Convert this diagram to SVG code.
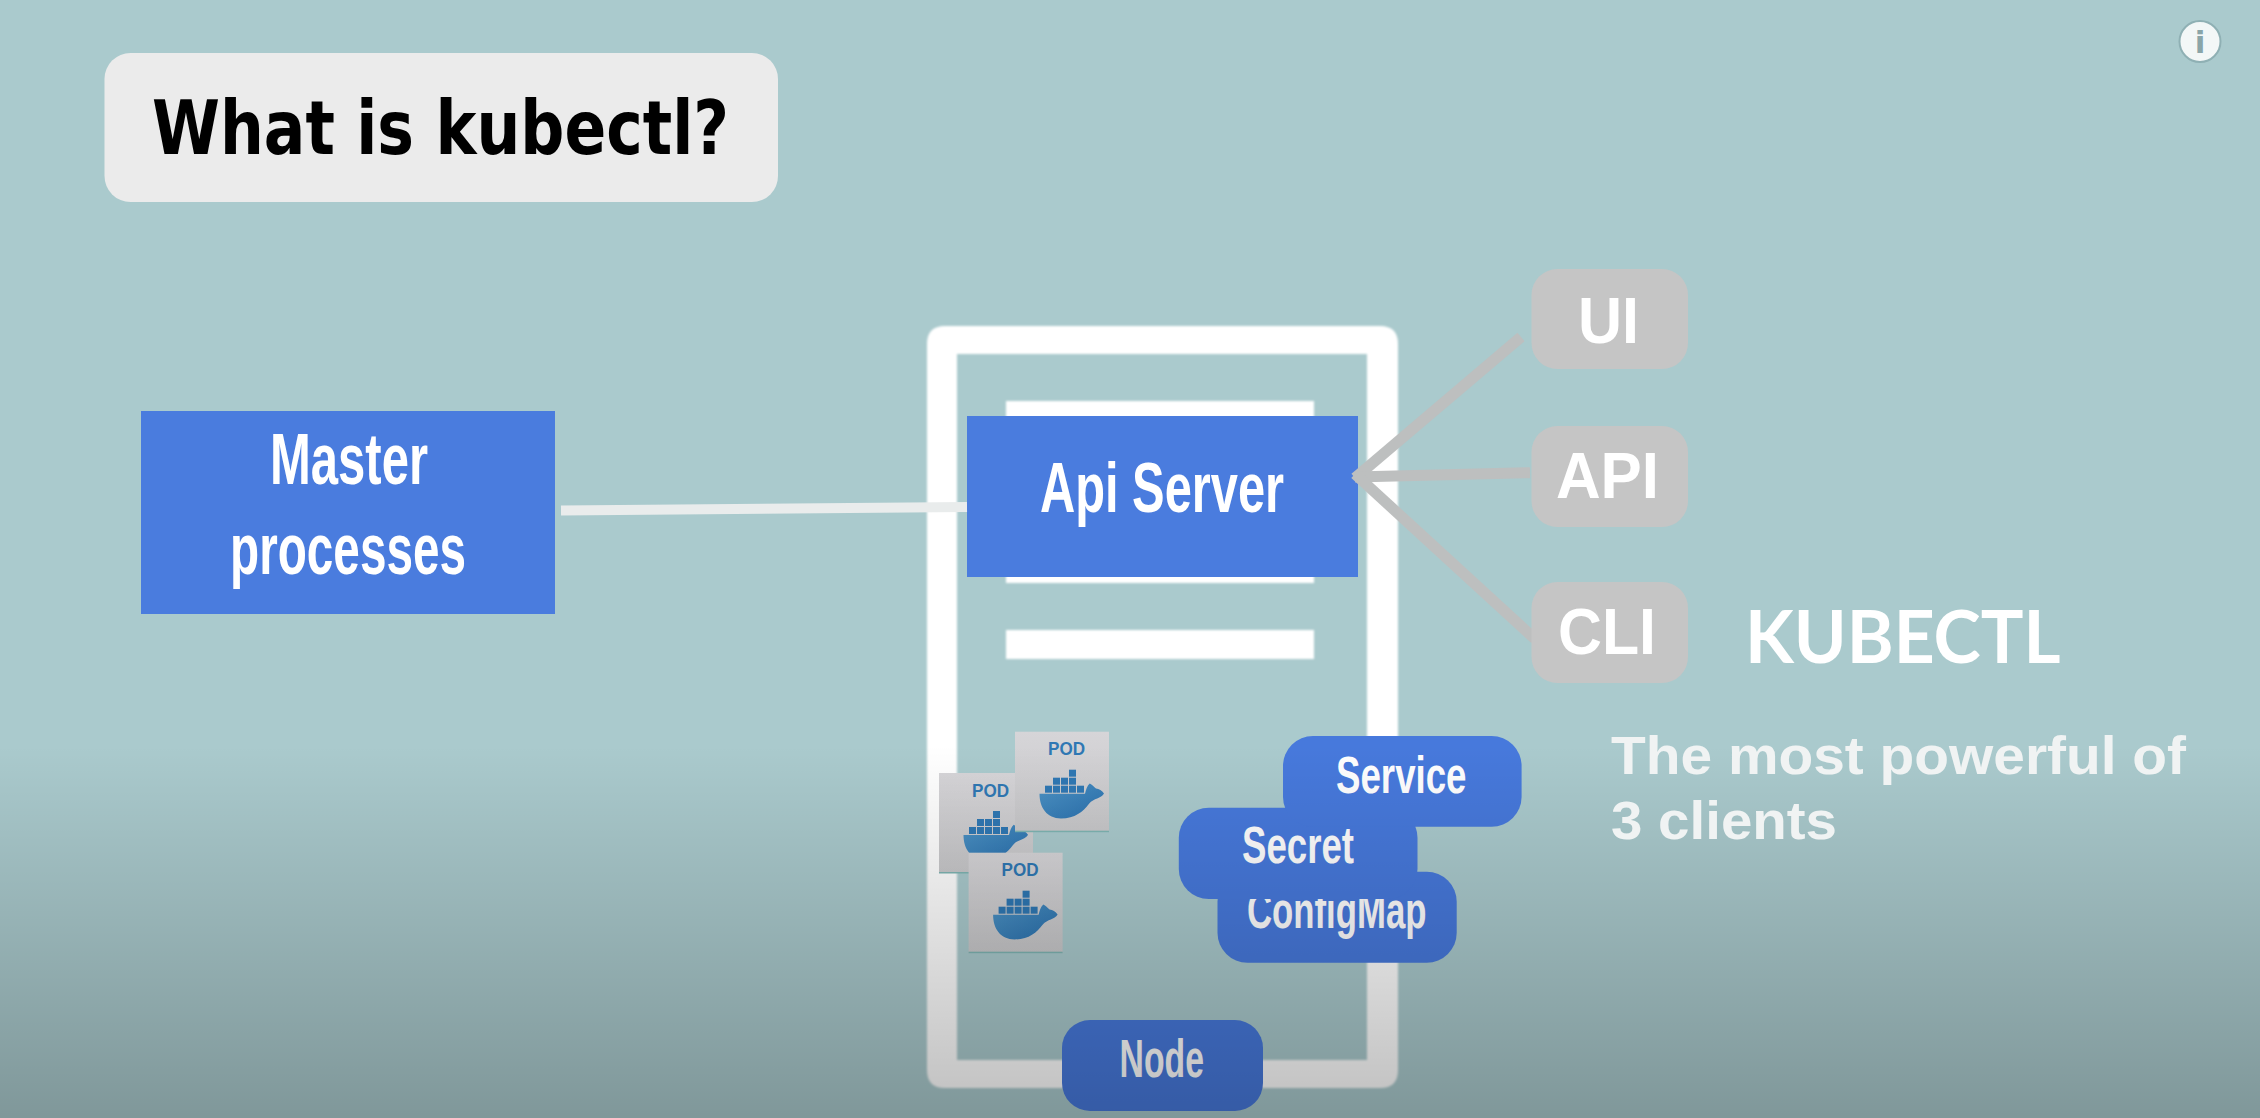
<svg xmlns="http://www.w3.org/2000/svg" width="2260" height="1118" viewBox="0 0 2260 1118">
<style>
.blue{fill:#4a7cde}
.pill{fill:#4779dc}
.grey{fill:#c5c5c5}
.wht{fill:#fff}
.din{font-family:"Liberation Sans Narrow","Liberation Sans",Arial,sans-serif;font-weight:700;fill:#fff}
.rnd{font-family:"Liberation Sans",Arial,sans-serif;font-weight:700;fill:#fff;font-size:64px}
.ln{stroke-linecap:butt;fill:none}
.pod{font-family:"Liberation Sans",sans-serif;font-weight:700;font-size:18px;fill:#2f78b4}
</style>
<defs>
<linearGradient id="card" x1="0" y1="0" x2="0" y2="1"><stop offset="0" stop-color="#d6d5d8"/><stop offset="1" stop-color="#c8c8ca"/></linearGradient>
<linearGradient id="hull" x1="0" y1="0" x2="1" y2="1"><stop offset="0" stop-color="#4d94c6"/><stop offset="1" stop-color="#2a70ae"/></linearGradient>
<linearGradient id="shade" x1="0" y1="0" x2="0" y2="1"><stop offset="0" stop-color="#000" stop-opacity="0"/><stop offset="1" stop-color="#000" stop-opacity="0.25"/></linearGradient>
<filter id="soft" x="-5%" y="-5%" width="110%" height="110%"><feGaussianBlur stdDeviation="0.9"/></filter>
<g id="podcard">
<rect width="94" height="100" fill="url(#card)"/>
<rect y="99" width="94" height="1.5" fill="#7fb5b3"/>
<text class="pod" x="33" y="23.500" textLength="37" lengthAdjust="spacingAndGlyphs">POD</text>
<path d="M24.500 62H70C71 58 72 54 74.700 51.700C77 53 79 55 81 56.700C84 57 87 59 89 61.700C86 67 79 66 74 72C68 80 60 86.700 46 86.700C32 86.700 24.500 76 24.500 62Z" fill="url(#hull)"/>
<g fill="#2f78b4">
<rect x="30" y="54" width="7" height="7"/><rect x="38" y="54" width="7" height="7"/><rect x="46" y="54" width="7" height="7"/><rect x="54" y="54" width="7" height="7"/><rect x="62" y="54" width="7" height="7"/>
<rect x="38" y="46" width="7" height="7"/><rect x="46" y="46" width="7" height="7"/><rect x="54" y="46" width="7" height="7"/>
<rect x="54" y="38" width="7" height="7"/>
</g>
</g>
</defs>
<rect id="background" width="2260" height="1118" fill="#aacacd"/>

<g id="title">
<rect x="104.500" y="53" width="673.500" height="149" rx="26" fill="#ebebeb"/>
<text x="152" y="154" font-family="'DejaVu Sans','Noto Sans',sans-serif" font-stretch="condensed" font-weight="700" font-size="74" fill="#000" textLength="577" lengthAdjust="spacingAndGlyphs">What is kubectl?</text>
</g>

<g id="info">
<circle cx="2200" cy="41.500" r="20.500" fill="#f3f7f7" stroke="#8fb0b4" stroke-width="2"/>
<text x="2200" y="53" text-anchor="middle" font-family="'DejaVu Sans',sans-serif" font-weight="700" font-size="31" fill="#8aa5a8">i</text>
</g>

<g id="node-frame" filter="url(#soft)">
<path class="wht" fill-rule="evenodd" d="M945 326H1380Q1398 326 1398 344V1070Q1398 1088 1380 1088H945Q927 1088 927 1070V344Q927 326 945 326ZM957 354V1060H1367V354Z"/>
<rect class="wht" x="1006" y="401" width="308" height="30"/>
<rect class="wht" x="1006" y="553" width="308" height="30"/>
<rect class="wht" x="1006" y="630" width="308" height="29"/>
</g>

<g id="master-processes">
<rect class="blue" x="141" y="411" width="414" height="203"/>
<text class="din" x="270" y="484" font-size="72" textLength="158" lengthAdjust="spacingAndGlyphs">Master</text>
<text class="din" x="230" y="574" font-size="72" textLength="236" lengthAdjust="spacingAndGlyphs">processes</text>
</g>

<g id="api-server">
<rect class="blue" x="967" y="416" width="391" height="161"/>
<text class="din" x="1040" y="511.700" font-size="70" textLength="244" lengthAdjust="spacingAndGlyphs">Api Server</text>
</g>

<g id="connectors">
<path class="ln" d="M561 510.500L967 507" stroke="#e9ecec" stroke-width="10"/>
<g stroke="#bdbfbf" stroke-width="11" class="ln">
<path d="M1355 478L1521 337"/>
<path d="M1355 477L1530 472.700"/>
<path d="M1355 474L1535 639"/>
</g>
</g>

<g id="client-ui">
<rect class="grey" x="1531.500" y="269" width="156.500" height="100" rx="26"/>
<text class="rnd" x="1578" y="342.700" textLength="61" lengthAdjust="spacingAndGlyphs">UI</text>
</g>
<g id="client-api">
<rect class="grey" x="1531.500" y="426" width="156.500" height="101" rx="26"/>
<text class="rnd" x="1556" y="498" textLength="103" lengthAdjust="spacingAndGlyphs">API</text>
</g>
<g id="client-cli">
<rect class="grey" x="1531.500" y="582" width="156.500" height="101" rx="26"/>
<text class="rnd" x="1558" y="654" textLength="98" lengthAdjust="spacingAndGlyphs">CLI</text>
</g>

<g id="kubectl-label">
<text x="1745" y="663" font-family="Lato,'Open Sans',sans-serif" font-weight="700" font-size="73" fill="#fff" textLength="315.500" lengthAdjust="spacingAndGlyphs">KUBECTL</text>
</g>

<g id="pod-2"><use href="#podcard" x="939" y="773"/></g>
<g id="pod-1"><use href="#podcard" x="1015" y="731.700"/></g>
<g id="pod-3"><use href="#podcard" x="968.600" y="852.700"/></g>

<g id="configmap">
<rect class="pill" x="1217.500" y="871.700" width="239.200" height="91" rx="30"/>
<text class="din" x="1247" y="928" font-size="52" textLength="179.500" lengthAdjust="spacingAndGlyphs">ConfigMap</text>
</g>
<g id="secret">
<rect class="pill" x="1178.800" y="807.700" width="238.700" height="91.300" rx="30"/>
<text class="din" x="1242" y="863" font-size="52" textLength="112" lengthAdjust="spacingAndGlyphs">Secret</text>
</g>
<g id="service">
<rect class="pill" x="1283" y="736" width="238.600" height="90.700" rx="30"/>
<text class="din" x="1336" y="792.700" font-size="52" textLength="130.500" lengthAdjust="spacingAndGlyphs">Service</text>
</g>
<g id="node-label">
<rect class="pill" x="1062" y="1020" width="201" height="91" rx="28"/>
<text class="din" x="1119.600" y="1076.700" font-size="53" textLength="84.400" lengthAdjust="spacingAndGlyphs">Node</text>
</g>

<rect id="shade-overlay" x="0" y="745" width="2260" height="373" fill="url(#shade)"/>

<g id="description" font-family="'Liberation Sans',Arial,sans-serif" font-weight="700" font-size="53" fill="#f0f3f3">
<text x="1611" y="774.400" textLength="575" lengthAdjust="spacingAndGlyphs">The most powerful of</text>
<text x="1611" y="839" textLength="226" lengthAdjust="spacingAndGlyphs">3 clients</text>
</g>
</svg>
